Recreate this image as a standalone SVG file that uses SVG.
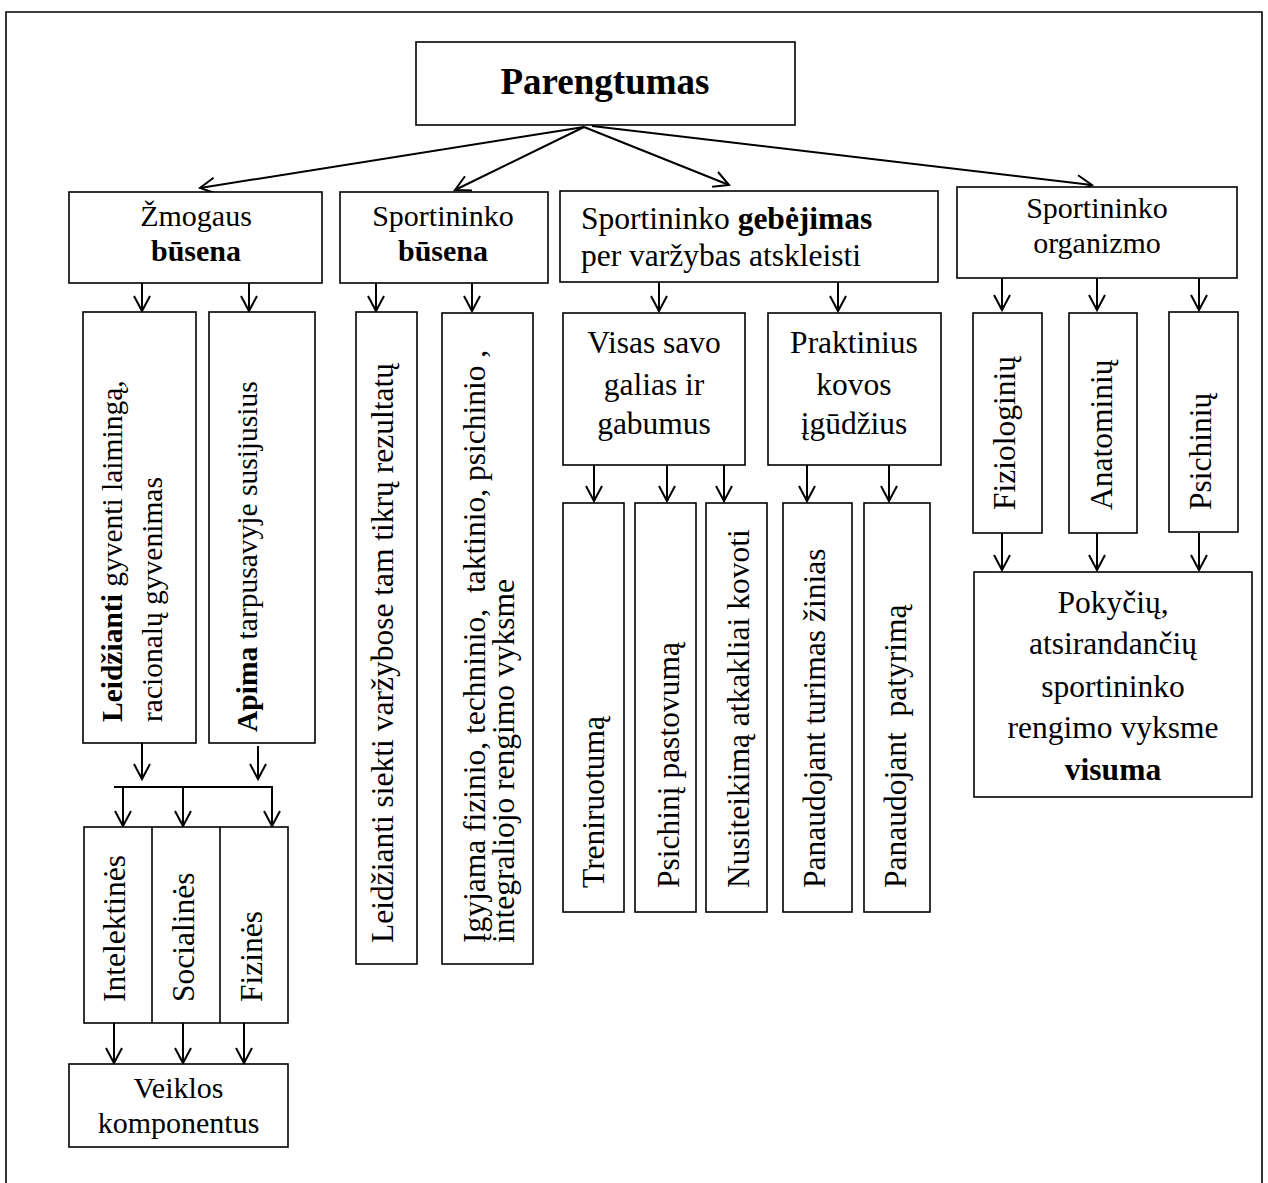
<svg xmlns="http://www.w3.org/2000/svg" width="1268" height="1183" viewBox="0 0 1268 1183">
<defs>
<style>
.box{fill:#fff;stroke:#000;stroke-width:1.6}
.frame{fill:none;stroke:#000;stroke-width:1.6}
.t{font-family:"Liberation Serif","Times New Roman",serif;font-size:31.5px;fill:#000}
.c{text-anchor:middle}
.s{font-size:29.5px}
.m{font-size:30px}
.b{font-weight:bold}
.con line{stroke:#000;stroke-width:2;fill:none}
.arr{marker-end:url(#arr)}
</style>
<marker id="arr" viewBox="-17 -10 20 20" markerWidth="20" markerHeight="20" refX="0" refY="0" orient="auto" markerUnits="userSpaceOnUse" overflow="visible">
<path d="M-15,-8 L0,0 L-15,8" fill="none" stroke="#000" stroke-width="2"/>
</marker>
</defs>
<rect x="0" y="0" width="1268" height="1183" fill="#fff"/>
<path class="frame" d="M6,1190 V12 H1262 V1190"/>

<g id="connectors" class="con">
<line class="arr" x1="584" y1="127" x2="200" y2="188"/>
<line class="arr" x1="584" y1="127" x2="455" y2="190"/>
<line class="arr" x1="584" y1="127" x2="729" y2="185"/>
<line class="arr" x1="592" y1="126" x2="1092" y2="185"/>
<line class="arr" x1="142" y1="283" x2="142" y2="311"/>
<line class="arr" x1="249" y1="283" x2="249" y2="311"/>
<line class="arr" x1="376" y1="283" x2="376" y2="311"/>
<line class="arr" x1="472" y1="283" x2="472" y2="311"/>
<line class="arr" x1="659" y1="282" x2="659" y2="311"/>
<line class="arr" x1="838" y1="282" x2="838" y2="311"/>
<line class="arr" x1="1002" y1="278" x2="1002" y2="310"/>
<line class="arr" x1="1097" y1="278" x2="1097" y2="310"/>
<line class="arr" x1="1199" y1="278" x2="1199" y2="310"/>
<line class="arr" x1="142" y1="743" x2="142" y2="779"/>
<line class="arr" x1="258" y1="746" x2="258" y2="779"/>
<line x1="114" y1="787" x2="273" y2="787"/>
<line class="arr" x1="123" y1="787" x2="123" y2="826"/>
<line class="arr" x1="183" y1="787" x2="183" y2="826"/>
<line class="arr" x1="272" y1="787" x2="272" y2="826"/>
<line class="arr" x1="114" y1="1023" x2="114" y2="1063"/>
<line class="arr" x1="183" y1="1023" x2="183" y2="1063"/>
<line class="arr" x1="244" y1="1023" x2="244" y2="1063"/>
<line class="arr" x1="594" y1="465" x2="594" y2="501"/>
<line class="arr" x1="667" y1="465" x2="667" y2="501"/>
<line class="arr" x1="724" y1="465" x2="724" y2="501"/>
<line class="arr" x1="807" y1="465" x2="807" y2="501"/>
<line class="arr" x1="889" y1="465" x2="889" y2="501"/>
<line class="arr" x1="1002" y1="533" x2="1002" y2="570"/>
<line class="arr" x1="1097" y1="533" x2="1097" y2="570"/>
<line class="arr" x1="1199" y1="533" x2="1199" y2="570"/>
</g>

<g id="parengtumas">
<rect class="box" x="416" y="42" width="379" height="83"/>
<text class="t c b" x="605" y="94" style="font-size:37px">Parengtumas</text>
</g>

<g id="zmogaus-busena">
<rect class="box" x="69" y="192" width="253" height="91"/>
<text class="t c m" x="196" y="226">Žmogaus</text>
<text class="t c m b" x="196" y="261">būsena</text>
</g>

<g id="sportininko-busena">
<rect class="box" x="340" y="192" width="208" height="91"/>
<text class="t c m" x="443" y="226">Sportininko</text>
<text class="t c m b" x="443" y="261">būsena</text>
</g>

<g id="gebejimas">
<rect class="box" x="560" y="191" width="378" height="91"/>
<text class="t" x="581" y="229">Sportininko <tspan class="b">gebėjimas</tspan></text>
<text class="t" x="581" y="266">per varžybas atskleisti</text>
</g>

<g id="organizmo">
<rect class="box" x="957" y="187" width="280" height="91"/>
<text class="t c m" x="1097" y="218">Sportininko</text>
<text class="t c m" x="1097" y="253">organizmo</text>
</g>

<g id="leidzianti-gyventi">
<rect class="box" x="83" y="312" width="113" height="431"/>
<text class="t s" transform="translate(122,722) rotate(-90)"><tspan class="b">Leidžianti</tspan> gyventi laimingą,</text>
<text class="t s" transform="translate(162,722) rotate(-90)">racionalų gyvenimas</text>
</g>

<g id="apima">
<rect class="box" x="209" y="312" width="106" height="431"/>
<text class="t s" transform="translate(257,732) rotate(-90)"><tspan class="b">Apima</tspan> tarpusavyje susijusius</text>
</g>

<g id="leidzianti-siekti">
<rect class="box" x="356" y="312" width="61" height="652"/>
<text class="t" transform="translate(393,943) rotate(-90)">Leidžianti siekti varžybose tam tikrų rezultatų</text>
</g>

<g id="igyjama">
<rect class="box" x="442" y="313" width="91" height="651"/>
<text class="t" xml:space="preserve" transform="translate(485,943) rotate(-90)">Įgyjama fizinio, techninio,  taktinio, psichinio ,</text>
<text class="t" transform="translate(514,943) rotate(-90)">integraliojo rengimo vyksme</text>
</g>

<g id="visas-savo">
<rect class="box" x="563" y="313" width="182" height="152"/>
<text class="t c" x="654" y="353">Visas savo</text>
<text class="t c" x="654" y="395">galias ir</text>
<text class="t c" x="654" y="434">gabumus</text>
</g>

<g id="praktinius">
<rect class="box" x="768" y="313" width="173" height="152"/>
<text class="t c" x="854" y="353">Praktinius</text>
<text class="t c" x="854" y="395">kovos</text>
<text class="t c" x="854" y="434">įgūdžius</text>
</g>

<g id="fiziologiniu">
<rect class="box" x="973" y="313" width="69" height="220"/>
<text class="t" transform="translate(1015,510) rotate(-90)">Fiziologinių</text>
</g>

<g id="anatominiu">
<rect class="box" x="1069" y="313" width="68" height="220"/>
<text class="t" transform="translate(1112,510) rotate(-90)">Anatominių</text>
</g>

<g id="psichiniu">
<rect class="box" x="1169" y="312" width="69" height="220"/>
<text class="t" transform="translate(1211,510) rotate(-90)">Psichinių</text>
</g>

<g id="pokyciu">
<rect class="box" x="974" y="572" width="278" height="225"/>
<text class="t c" x="1113" y="613">Pokyčių,</text>
<text class="t c" x="1113" y="654">atsirandančių</text>
<text class="t c" x="1113" y="697">sportininko</text>
<text class="t c" x="1113" y="738">rengimo vyksme</text>
<text class="t c b" x="1113" y="780">visuma</text>
</g>

<g id="treniruotuma">
<rect class="box" x="563" y="503" width="61" height="409"/>
<text class="t" transform="translate(604,888) rotate(-90)">Treniruotumą</text>
</g>

<g id="psichini-pastovuma">
<rect class="box" x="635" y="503" width="61" height="409"/>
<text class="t" transform="translate(679,888) rotate(-90)">Psichinį pastovumą</text>
</g>

<g id="nusiteikima">
<rect class="box" x="706" y="503" width="61" height="409"/>
<text class="t" transform="translate(749,888) rotate(-90)">Nusiteikimą atkakliai kovoti</text>
</g>

<g id="panaudojant-zinias">
<rect class="box" x="783" y="503" width="69" height="409"/>
<text class="t" transform="translate(825,888) rotate(-90)">Panaudojant turimas žinias</text>
</g>

<g id="panaudojant-patyrima">
<rect class="box" x="864" y="503" width="66" height="409"/>
<text class="t" xml:space="preserve" transform="translate(906,888) rotate(-90)">Panaudojant  patyrimą</text>
</g>

<g id="komponentai">
<rect class="box" x="84" y="827" width="204" height="196"/>
<line x1="152" y1="827" x2="152" y2="1023" stroke="#000" stroke-width="1.6"/>
<line x1="220" y1="827" x2="220" y2="1023" stroke="#000" stroke-width="1.6"/>
<text class="t" transform="translate(125,1002) rotate(-90)">Intelektinės</text>
<text class="t" transform="translate(194,1002) rotate(-90)">Socialinės</text>
<text class="t" transform="translate(262,1002) rotate(-90)">Fizinės</text>
</g>

<g id="veiklos">
<rect class="box" x="69" y="1064" width="219" height="83"/>
<text class="t c m" x="178.5" y="1098">Veiklos</text>
<text class="t c m" x="178.5" y="1133">komponentus</text>
</g>
</svg>
